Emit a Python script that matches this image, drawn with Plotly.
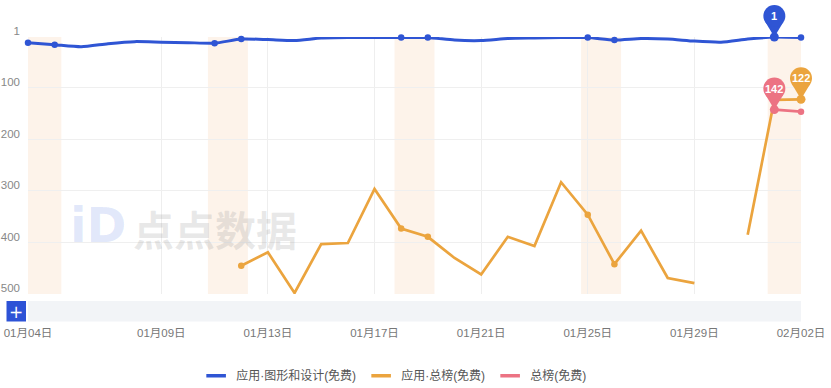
import plotly.graph_objects as go
from datetime import datetime, timedelta

# ---------------- data ----------------
dates = [
    "2025-01-04", "2025-01-05", "2025-01-06", "2025-01-07", "2025-01-08",
    "2025-01-09", "2025-01-10", "2025-01-11", "2025-01-12", "2025-01-13",
    "2025-01-14", "2025-01-15", "2025-01-16", "2025-01-17", "2025-01-18",
    "2025-01-19", "2025-01-20", "2025-01-21", "2025-01-22", "2025-01-23",
    "2025-01-24", "2025-01-25", "2025-01-26", "2025-01-27", "2025-01-28",
    "2025-01-29", "2025-01-30", "2025-01-31", "2025-02-01", "2025-02-02",
]
rank_design = [12, 16, 20, 14, 10, 11, 12, 13, 5, 6,
               8, 3, 2, 2, 2, 2, 7, 8, 4, 3,
               2, 2, 7, 4, 5, 9, 11, 5, 1, 2]
rank_apps = [None, None, None, None, None, None, None, None, 445, 419,
             498, 403, 401, 296, 373, 389, 430, 462, 389, 407,
             283, 346, 442, 377, 469, 479, None, 385, 123, 122]
rank_overall = [None] * 28 + [142, 146]

series_names = ["应用·图形和设计(免费)", "应用·总榜(免费)", "总榜(免费)"]
series_colors = ["#2f55d4", "#eba43e", "#ec7383"]

tick_dates = ["2025-01-04", "2025-01-09", "2025-01-13", "2025-01-17",
              "2025-01-21", "2025-01-25", "2025-01-29", "2025-02-02"]
tick_text = ["01月04日", "01月09日", "01月13日", "01月17日",
             "01月21日", "01月25日", "01月29日", "02月02日"]
y_ticks = [1, 100, 200, 300, 400, 500]
y_range = [500, 1]

# pinned (labelled) points: (series index, date)
pins = [(0, "2025-02-01"), (2, "2025-02-01"), (1, "2025-02-02")]

FONT = "Liberation Sans, Noto Sans CJK SC, sans-serif"

all_series = [rank_design, rank_apps, rank_overall]
pinned = {(s, d) for s, d in pins}


def to_dt(d):
    return datetime.strptime(d, "%Y-%m-%d")


d_start, d_end = to_dt(dates[0]), to_dt(dates[-1])


def x_frac(d):
    return (to_dt(d) - d_start) / (d_end - d_start)


def y_frac(v):
    return (y_range[0] - v) / (y_range[0] - y_range[1])


fig = go.Figure()

for i, (vals, name, col) in enumerate(zip(all_series, series_names, series_colors)):
    sizes = []
    for d, v in zip(dates, vals):
        if (i, d) in pinned:
            sizes.append(9)
        elif to_dt(d).weekday() >= 5:
            sizes.append(6.5)
        else:
            sizes.append(0)
    fig.add_trace(go.Scatter(
        x=dates, y=vals, mode="lines+markers", name=name,
        line=dict(color=col, width=3 if i == 0 else 2.7,
                  shape="spline" if i == 0 else "linear", smoothing=0.6),
        marker=dict(size=sizes, color=col, opacity=1, line=dict(width=0)),
        connectgaps=False, showlegend=False, hoverinfo="skip",
        cliponaxis=False,
    ))
    # legend entry (short rounded swatch)
    fig.add_trace(go.Scatter(
        x=[None], y=[None], mode="markers", name=name,
        marker=dict(symbol="line-ew", size=14, color=col,
                    line=dict(color=col, width=3.5)),
        showlegend=True,
    ))

shapes = []
# weekend bands
for d in dates:
    dt = to_dt(d)
    if dt.weekday() == 5:
        x0 = dt - timedelta(hours=6)
        x1 = dt + timedelta(days=1, hours=6)
        shapes.append(dict(type="rect", xref="x", yref="y domain",
                           x0=x0, x1=x1, y0=0, y1=1,
                           fillcolor="#fdf3ea", line=dict(width=0),
                           layer="below"))

annotations = []
# pins (balloon markers with the rank written inside)
for s, d in pins:
    v = all_series[s][dates.index(d)]
    col = series_colors[s]
    xa, ya = x_frac(d), y_frac(v)
    shapes.append(dict(type="path", xref="paper", yref="paper",
                       xsizemode="pixel", ysizemode="pixel",
                       xanchor=xa, yanchor=ya,
                       path="M-9,15 L9,15 L0,0 Z",
                       fillcolor=col, line=dict(width=0), layer="above"))
    shapes.append(dict(type="circle", xref="paper", yref="paper",
                       xsizemode="pixel", ysizemode="pixel",
                       xanchor=xa, yanchor=ya,
                       x0=-11, x1=11, y0=10, y1=32,
                       fillcolor=col, line=dict(width=0), layer="above"))
    annotations.append(dict(x=d, y=v, xref="x", yref="y", yshift=21,
                            xanchor="center", yanchor="middle",
                            text="<b>%d</b>" % v, showarrow=False,
                            font=dict(color="white", size=11, family=FONT)))

# data-zoom bar and button below the plot
shapes.append(dict(type="rect", xref="paper", yref="paper",
                   ysizemode="pixel", yanchor=0, x0=0, x1=1, y0=-7, y1=-27.5,
                   fillcolor="#f2f4f7", line=dict(width=0)))
shapes.append(dict(type="rect", xref="paper", yref="paper",
                   xsizemode="pixel", ysizemode="pixel", xanchor=0, yanchor=0,
                   x0=-21.5, x1=-2, y0=-7, y1=-27.5,
                   fillcolor="#2d52d6", line=dict(width=0)))
annotations.append(dict(x=0, y=0, xref="paper", yref="paper",
                        xanchor="center", yanchor="middle",
                        xshift=-11.7, yshift=-17.5, text="+", showarrow=False,
                        font=dict(color="white", size=17, family="DejaVu Sans")))

# watermark
annotations.append(dict(x=0.242, y=0.258, xref="paper", yref="paper",
                        xanchor="center", yanchor="middle",
                        text="<b>点点数据</b>", showarrow=False,
                        font=dict(color="rgba(150,150,150,0.22)", size=41,
                                  family="Noto Sans CJK SC")))
annotations.append(dict(x=0.0906, y=0.27, xref="paper", yref="paper",
                        xanchor="center", yanchor="middle",
                        text="<b>iD</b>", showarrow=False,
                        font=dict(color="rgba(70,110,225,0.16)", size=48,
                                  family="DejaVu Sans")))

fig.update_layout(
    width=831, height=388,
    margin=dict(l=28, r=30, t=37, b=94, autoexpand=False),
    paper_bgcolor="white", plot_bgcolor="white",
    font=dict(family=FONT, color="#666"),
    shapes=shapes, annotations=annotations,
    showlegend=True,
    legend=dict(orientation="h", xanchor="center", yanchor="middle",
                x=0.473, y=-0.318, font=dict(size=12, color="#555", family=FONT),
                itemwidth=30, tracegroupgap=0, bgcolor="rgba(0,0,0,0)"),
    xaxis=dict(type="date", range=[dates[0], dates[-1]],
               tickvals=tick_dates, ticktext=tick_text,
               showgrid=True, gridcolor="#eeeeee", gridwidth=1,
               zeroline=False, showline=False, ticks="", automargin=False,
               ticklabelstandoff=30,
               tickfont=dict(size=11.5, color="#777", family=FONT)),
    yaxis=dict(range=y_range, tickvals=y_ticks,
               showgrid=True, gridcolor="#efefef", gridwidth=1,
               zeroline=False, showline=False, ticks="", automargin=False,
               ticklabelstandoff=7, ticklabelshift=6,
               tickfont=dict(size=11.5, color="#888", family=FONT)),
    hovermode=False,
)

fig.write_html("out.html")
